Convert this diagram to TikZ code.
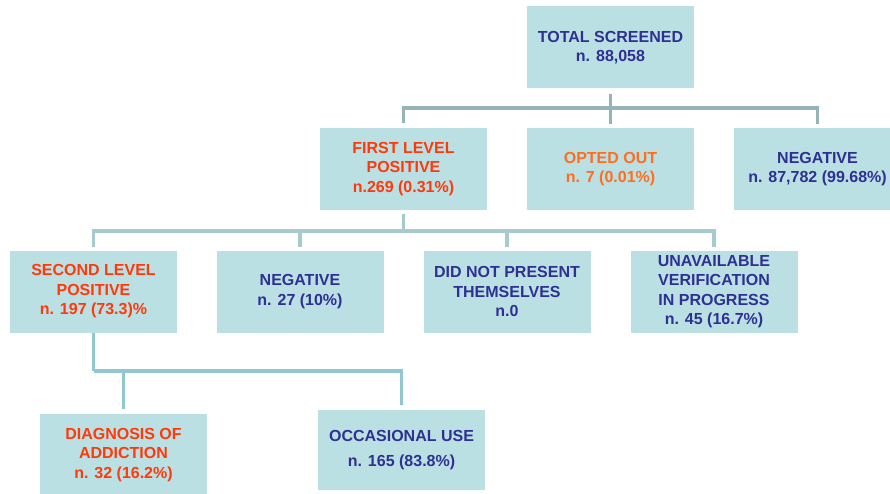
\documentclass[tikz,border=0pt]{standalone}
\usepackage{fontspec}
\setmainfont{Liberation Sans}
\usepackage{tikz}
\usepackage{xcolor}
\definecolor{boxfill}{HTML}{BBE0E3}
\definecolor{navy}{HTML}{2E3192}
\definecolor{redtext}{HTML}{FF3A0A}
\definecolor{orangetext}{HTML}{FF6E1E}
\definecolor{linegray}{HTML}{96B4B7}
\definecolor{linemid}{HTML}{A6CACD}
\definecolor{linecyan}{HTML}{8FC8CE}

\begin{document}
\begin{tikzpicture}[x=1pt,y=-1pt]
	\tikzstyle{box} = [fill=boxfill, minimum width=167pt, minimum height=82pt, inner sep=0pt, align=center, font=\bfseries\fontsize{16}{19.5}\selectfont]
	\tikzstyle{topline} = [draw=linegray, line width=3.5pt]
	\tikzstyle{midline} = [draw=linemid, line width=3.5pt]
	\tikzstyle{lowline} = [draw=linecyan, line width=3.5pt]
	\useasboundingbox (0,0) rectangle (890,494);
		\node[box, text=navy] (total) at (610.5,47.5) {TOTAL SCREENED\\n. 88,058};
		\node[box, text=redtext] (first) at (403.5,169) {FIRST LEVEL\\POSITIVE\\n.269 (0.31\%)};
		\node[box, text=orangetext] (opted) at (610.5,169) {OPTED OUT\\n. 7 (0.01\%)};
		\node[box, text=navy] (negative) at (817.5,169) {NEGATIVE\\n. 87,782 (99.68\%)};
		\node[box, text=redtext] (second) at (93.5,291.5) {SECOND LEVEL\\POSITIVE\\n. 197 (73.3)\%};
		\node[box, text=navy] (negtwo) at (300,291.5) {NEGATIVE\\n. 27 (10\%)};
		\node[box, text=navy] (absent) at (507,291.5) {DID NOT PRESENT\\THEMSELVES\\n.0};
		\node[box, text=navy] (unavail) at (714,291.5) {UNAVAILABLE\\VERIFICATION\\IN PROGRESS\\n. 45 (16.7\%)};
		\node[box, text=redtext] (diag) at (123.5,455) {DIAGNOSIS OF\\ADDICTION\\n. 32 (16.2\%)};
		\node[box, text=navy, minimum height=80pt] (occas) at (401.5,450) {OCCASIONAL USE\\[5pt]n. 165 (83.8\%)};
	\coordinate (j1) at (610.5,108);
	\coordinate (j2) at (403.5,231);
	\coordinate (j3) at (93.5,371);
	\draw[topline, shorten <=5pt] (total) -- (j1);
	\draw[topline, shorten <=5pt, shorten >=4pt] (first) |- (j1) -| (negative);
	\draw[topline, shorten >=4pt] (j1) -- (opted);
	\draw[midline, shorten <=4pt] (first) -- (j2);
	\draw[midline, shorten <=3pt, shorten >=3pt] (second) |- (j2) -| (unavail);
	\draw[midline, shorten >=3pt] (j2) -| (negtwo);
	\draw[midline, shorten >=3pt] (j2) -| (absent);
	\draw[lowline] (second) -- (j3);
	\draw[lowline, shorten >=5pt] (j3) -| (diag);
	\draw[lowline, shorten >=5pt] (j3) -| (occas);
\end{tikzpicture}
\end{document}
